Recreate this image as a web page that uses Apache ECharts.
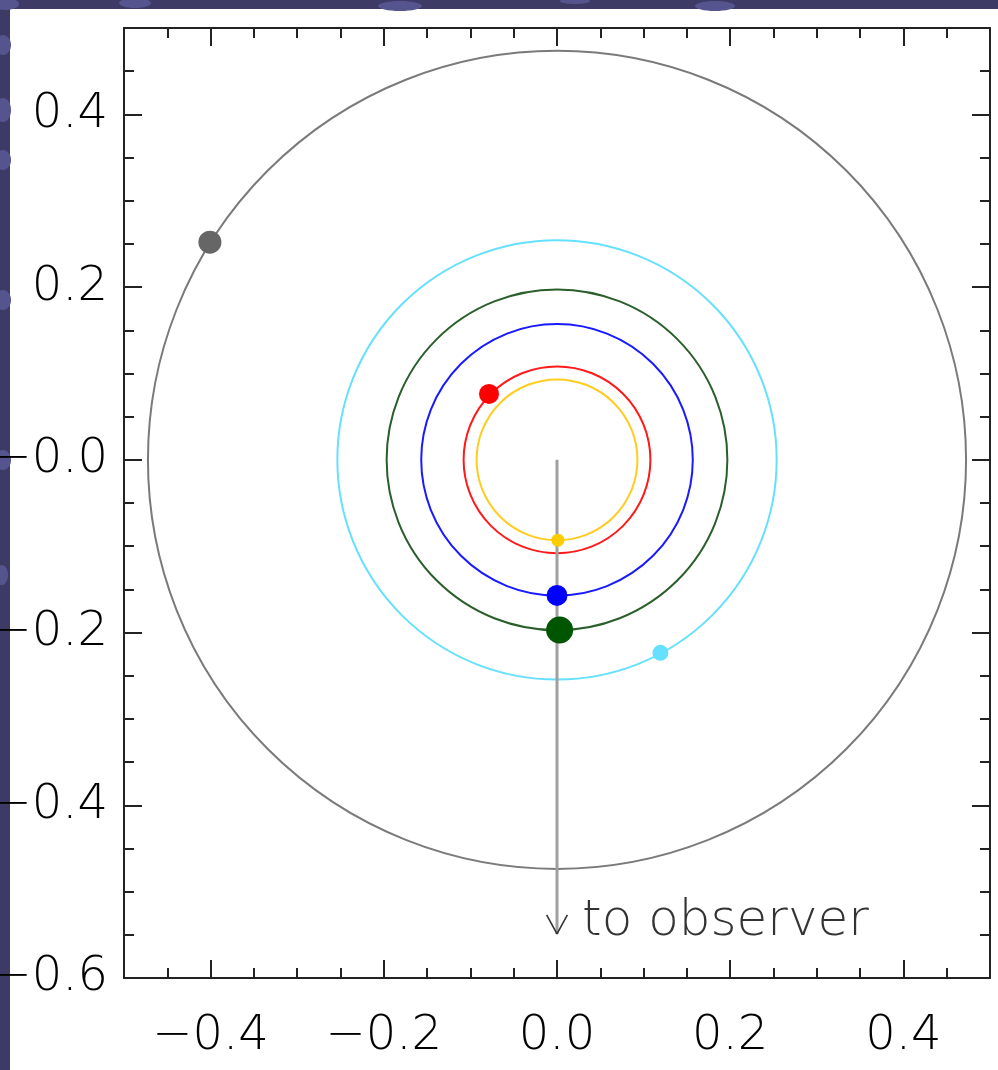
<!DOCTYPE html>
<html>
<head>
<meta charset="utf-8">
<script src="https://cdn.jsdelivr.net/npm/echarts@6/dist/echarts.min.js"></script>
<style>html,body{margin:0;padding:0;background:#fff;}#c{width:998px;height:1070px;}</style>
</head>
<body>
<div id="c"></div>
<script>
// ---- data ----
const planetNames = ['b', 'c', 'd', 'e', 'f', 'g'];
const orbitRadius = [0.093, 0.108, 0.157, 0.197, 0.254, 0.473];
const planetX = [0.001, -0.0785, 0.000, 0.003, 0.1194, -0.4008];
const planetY = [-0.093, 0.0763, -0.157, -0.197, -0.2235, 0.252];
const starX = 0, starY = 0;
const arrowLineX = [0, 0];
const arrowLineY = [0, -0.549];
const arrowHeadX = [-0.012, 0, 0.012];
const arrowHeadY = [-0.527, -0.549, -0.527];
const observerLabel = 'to observer';
const observerPos = [0.029, -0.535];
const xMajorTicks = [-0.4, -0.2, 0, 0.2, 0.4];
const yMajorTicks = [-0.6, -0.4, -0.2, 0, 0.2, 0.4];
const xMinorTicks = [-0.45, -0.4, -0.35, -0.3, -0.25, -0.2, -0.15, -0.1, -0.05, 0, 0.05, 0.1, 0.15, 0.2, 0.25, 0.3, 0.35, 0.4, 0.45];
const yMinorTicks = [-0.55, -0.5, -0.45, -0.4, -0.35, -0.3, -0.25, -0.2, -0.15, -0.1, -0.05, 0, 0.05, 0.1, 0.15, 0.2, 0.25, 0.3, 0.35, 0.4, 0.45];

// ---- styles ----
const orbitColors = ['#ffcc22', '#ff1a1a', '#1a1aff', '#2a5e2a', '#66e0ff', '#7a7a7a'];
const planetColors = ['#ffcc00', '#ff0000', '#0000ff', '#005500', '#66e0ff', '#666666'];
const planetSizes = [13, 20, 21, 27, 16, 23];

const FONT = "'DejaVu Sans'";
const fmt = v => {
  const a = Math.abs(v).toFixed(1);
  if (v > 0.0001) return a;
  return '\u2212' + a;
};

function axisBase(extra) {
  return Object.assign({
    type: 'value', splitLine: {show: false},
    axisLine: {show: true, onZero: false, lineStyle: {color: '#222', width: 2}},
  }, extra);
}
const tickStyle = {color: '#222', width: 2};

const xAxes = [
  axisBase({position: 'bottom', min: -0.5, max: 0.5,
    axisTick: {show: true, inside: true, length: 18, lineStyle: tickStyle, customValues: xMajorTicks},
    axisLabel: {show: true, customValues: xMajorTicks, formatter: v => Math.abs(v) < 1e-9 ? '0.0' : fmt(v),
      fontFamily: FONT, fontWeight: 200, fontSize: 48, color: '#000', margin: 35}}),
  axisBase({position: 'bottom', min: -0.5, max: 0.5, axisLine: {show: false, onZero: false},
    axisTick: {show: true, inside: true, length: 10, lineStyle: tickStyle, customValues: xMinorTicks},
    axisLabel: {show: false}}),
  axisBase({position: 'top', min: -0.5, max: 0.5,
    axisTick: {show: true, inside: true, length: 18, lineStyle: tickStyle, customValues: xMajorTicks},
    axisLabel: {show: false}}),
  axisBase({position: 'top', min: -0.5, max: 0.5, axisLine: {show: false, onZero: false},
    axisTick: {show: true, inside: true, length: 10, lineStyle: tickStyle, customValues: xMinorTicks},
    axisLabel: {show: false}})
];
const yAxes = [
  axisBase({position: 'left', min: -0.6, max: 0.5,
    axisTick: {show: true, inside: true, length: 18, lineStyle: tickStyle, customValues: yMajorTicks},
    axisLabel: {show: true, customValues: yMajorTicks, formatter: fmt,
      fontFamily: FONT, fontWeight: 200, fontSize: 48, color: '#000', margin: 16}}),
  axisBase({position: 'left', min: -0.6, max: 0.5, axisLine: {show: false, onZero: false},
    axisTick: {show: true, inside: true, length: 10, lineStyle: tickStyle, customValues: yMinorTicks},
    axisLabel: {show: false}}),
  axisBase({position: 'right', min: -0.6, max: 0.5,
    axisTick: {show: true, inside: true, length: 18, lineStyle: tickStyle, customValues: yMajorTicks},
    axisLabel: {show: false}}),
  axisBase({position: 'right', min: -0.6, max: 0.5, axisLine: {show: false, onZero: false},
    axisTick: {show: true, inside: true, length: 10, lineStyle: tickStyle, customValues: yMinorTicks},
    axisLabel: {show: false}})
];

const series = [];
// orbits
orbitRadius.forEach((r, i) => {
  series.push({
    type: 'custom', name: 'orbit ' + planetNames[i], silent: true, z: 2,
    data: [[starX, starY, r]],
    renderItem: (params, api) => {
      const c = api.coord([api.value(0), api.value(1)]);
      const s = api.size([api.value(2), api.value(2)]);
      return {type: 'circle', shape: {cx: c[0], cy: c[1], r: (s[0] + s[1]) / 2},
        style: {fill: 'none', stroke: orbitColors[i], lineWidth: 2}};
    }
  });
});
// arrow line
series.push({type: 'line', name: 'arrow', silent: true, z: 3, symbol: 'none',
  data: arrowLineX.map((x, i) => [x, arrowLineY[i]]),
  lineStyle: {color: '#a0a0a0', width: 3}});
series.push({type: 'line', name: 'arrowhead', silent: true, z: 3, symbol: 'none',
  data: arrowHeadX.map((x, i) => [x, arrowHeadY[i]]),
  lineStyle: {color: '#333', width: 1.6}});
// planets
planetNames.forEach((n, i) => {
  series.push({type: 'scatter', name: n, z: 5, symbol: 'circle', symbolSize: planetSizes[i],
    data: [[planetX[i], planetY[i]]], itemStyle: {color: planetColors[i], opacity: 1}});
});
// label
series.push({type: 'scatter', name: 'label', silent: true, z: 6, symbolSize: 0,
  data: [observerPos],
  label: {show: true, position: 'right', distance: 0, formatter: observerLabel,
    fontFamily: FONT, fontWeight: 200, fontSize: 50, color: '#000'}});

const stripColor = '#3d3b66';
const blob = '#55548e';
const chart = echarts.init(document.getElementById('c'), null, {renderer: 'canvas'});
chart.setOption({
  backgroundColor: '#ffffff',
  animation: false,
  grid: {left: 124, right: 8, top: 28, bottom: 92, containLabel: false, outerBoundsMode: 'none'},
  xAxis: xAxes,
  yAxis: yAxes,
  series: series,
  graphic: [
    {type: 'group', z: 100, children: [
      {type: 'rect', shape: {x: 0, y: 0, width: 10, height: 1070}, style: {fill: stripColor}},
      {type: 'rect', shape: {x: 0, y: 0, width: 998, height: 9}, style: {fill: stripColor}},
      {type: 'ellipse', shape: {cx: 5, cy: 4, rx: 14, ry: 6}, style: {fill: blob}},
      {type: 'ellipse', shape: {cx: 135, cy: 3, rx: 16, ry: 5}, style: {fill: blob}},
      {type: 'ellipse', shape: {cx: 400, cy: 6, rx: 22, ry: 5}, style: {fill: blob}},
      {type: 'ellipse', shape: {cx: 575, cy: 1, rx: 15, ry: 3}, style: {fill: blob}},
      {type: 'ellipse', shape: {cx: 715, cy: 6, rx: 20, ry: 5}, style: {fill: blob}},
      {type: 'ellipse', shape: {cx: 3, cy: 45, rx: 8, ry: 10}, style: {fill: blob}},
      {type: 'ellipse', shape: {cx: 3, cy: 110, rx: 8, ry: 12}, style: {fill: blob}},
      {type: 'ellipse', shape: {cx: 3, cy: 160, rx: 8, ry: 10}, style: {fill: blob}},
      {type: 'ellipse', shape: {cx: 3, cy: 300, rx: 8, ry: 10}, style: {fill: blob}},
      {type: 'ellipse', shape: {cx: 3, cy: 460, rx: 8, ry: 10}, style: {fill: blob}},
      {type: 'ellipse', shape: {cx: 2, cy: 575, rx: 6, ry: 10}, style: {fill: blob}}
    ]}
  ]
});
</script>
</body>
</html>
